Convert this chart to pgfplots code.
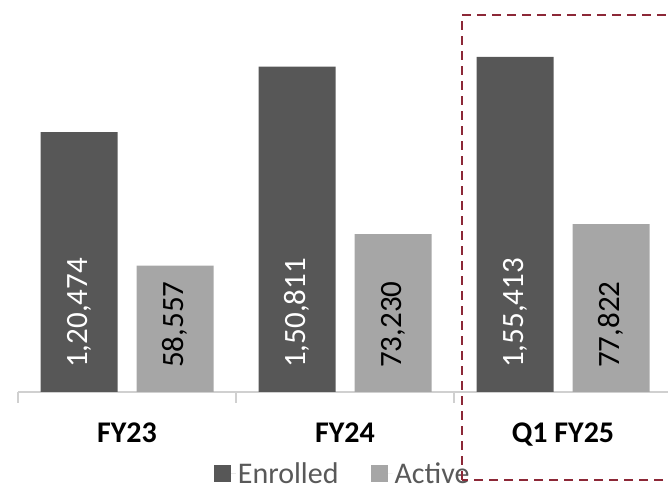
\documentclass[border=0pt]{standalone}
\usepackage{fontspec}
\setmainfont{Carlito}
\usepackage{pgfplots}
\usepackage{pgfplotstable}
\pgfplotsset{compat=1.18}

\definecolor{enrolledgray}{HTML}{575757}
\definecolor{activegray}{HTML}{A6A6A6}
\definecolor{axisgray}{HTML}{D0D0D0}
\definecolor{legendgray}{HTML}{595959}
\definecolor{boxred}{RGB}{140,40,55}

% Enrolled and active counts, with the labels in Indian digit grouping
\pgfplotstableread{
x enrolled elab     active alab
0 120474   1,20,474 58557  58,557
1 150811   1,50,811 73230  73,230
2 155413   1,55,413 77822  77,822
}\enrolldata

\newcommand{\valfont}{\fontsize{31bp}{36bp}\selectfont}
\newcommand{\catfont}{\fontsize{30bp}{36bp}\selectfont\bfseries}

\begin{document}
\begin{tikzpicture}[x=1bp,y=1bp]
\useasboundingbox (0,0) rectangle (668,486);
\clip (0,0) rectangle (668,486);
\begin{axis}[
  at={(18bp,94bp)}, anchor=south west,
  scale only axis, width=654bp, height=377bp,
  xmin=-0.5, xmax=2.5, ymin=0, ymax=174800,
  axis x line*=bottom, axis y line=none,
  x axis line style={color=axisgray, line width=1.6bp},
  xtick={0,1,2}, xticklabels={FY23,FY24,Q1 FY25},
  major tick length=0pt,
  minor xtick={-0.5,0.5,1.5,2.5},
  minor tick length=11bp,
  xtick align=outside,
  minor tick style={color=axisgray, line width=1.4bp},
  xticklabel style={font=\catfont, anchor=base, yshift=-51bp, text=black},
  ybar, bar width=77bp,
  point meta=explicit symbolic,
  visualization depends on={rawy \as \rawy},
  legend style={at={(0.4965,-0.2150)}, anchor=center, draw=none, fill=none,
    inner sep=0pt,
    nodes={inner ysep=0pt, text depth=0pt},
    font=\fontsize{30bp}{36bp}\selectfont, text=legendgray,
    legend columns=2,
    /tikz/every even column/.append style={column sep=30bp}},
  legend image code/.code={\fill[#1] (0bp,-8.5bp) rectangle (17bp,8.5bp);
    \path (17bp,0bp) -- (22bp,0bp);},
]
\addplot[bar shift=-48bp, fill=enrolledgray, draw=none,
  nodes near coords,
  every node near coord/.append style={shift={(axis direction cs:0,-\rawy)},
    yshift=24bp, rotate=90, anchor=west, font=\valfont, text=white, inner sep=0pt}]
  table[x=x, y=enrolled, meta=elab] {\enrolldata};
\addlegendentry{Enrolled}
\addplot[bar shift=48bp, fill=activegray, draw=none,
  nodes near coords,
  every node near coord/.append style={shift={(axis direction cs:0,-\rawy)},
    yshift=24bp, rotate=90, anchor=west, font=\valfont, text=black, inner sep=0pt}]
  table[x=x, y=active, meta=alab] {\enrolldata};
\addlegendentry{Active}
\end{axis}
% dashed frame around the latest quarter
\draw[boxred, line width=2bp, dash pattern=on 9bp off 6bp]
  (462,6) rectangle (690,471);
\end{tikzpicture}
\end{document}
